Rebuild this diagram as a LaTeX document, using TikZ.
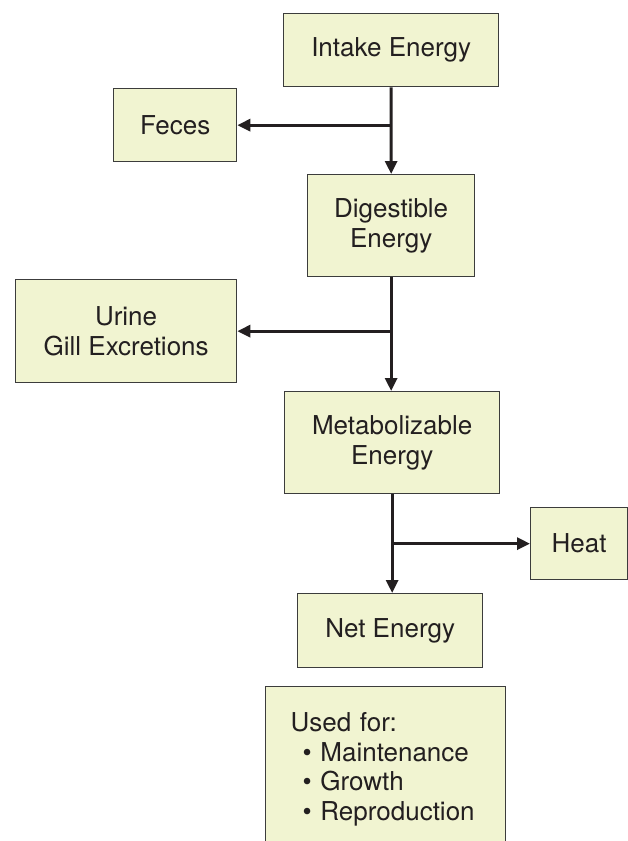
\documentclass[tikz,border=0pt]{standalone}
\usepackage{fontspec}
\setmainfont{TeX Gyre Heros}
\usepackage{tikz}
\usetikzlibrary{arrows.meta, positioning, calc}
\definecolor{boxfill}{RGB}{241,244,209}
\definecolor{boxline}{RGB}{60,60,60}
\definecolor{arrowcol}{RGB}{35,31,32}

\begin{document}
\begin{tikzpicture}[x=1bp, y=-1bp,
      box/.style={rectangle, draw=boxline, fill=boxfill, line width=1.3bp, align=center, anchor=north west, inner sep=0pt, text=arrowcol, font=\fontsize{26bp}{29.5bp}\selectfont},
      arr/.style={-{Triangle[length=13bp, width=12bp]}, line width=3bp, arrowcol},
    ]
    \useasboundingbox (0,0) rectangle (628,841);
    \clip (0,0) rectangle (628,841);
    % main column
    \node[box, minimum width=215bp, minimum height=73bp] (intake) at (283,13) {Intake Energy};
    \node[box, minimum width=167bp, minimum height=102bp] (digest) at (307,174) {Digestible\\Energy};
    \node[box, minimum width=215bp, minimum height=102bp] (metab) at (284,391) {Metabolizable\\Energy};
    \node[box, minimum width=185bp, minimum height=74bp] (net) at (297,593) {Net Energy};
    \node[box, minimum width=240bp, minimum height=165bp, text width=190bp, align=left] (used) at (265,686)
      {Used for:\\\hspace*{12bp}\textbullet\ Maintenance\\\hspace*{12bp}\textbullet\ Growth\\\hspace*{12bp}\textbullet\ Reproduction};
    % losses
    \node[box, minimum width=123bp, minimum height=73bp] (feces) at (113,88) {Feces};
    \node[box, minimum width=221bp, minimum height=103bp] (urine) at (15,279) {Urine\\Gill Excretions};
    \node[box, minimum width=97bp, minimum height=72bp] (heat) at (530,507) {Heat};
    \coordinate (fj) at (intake.south |- feces.east);
    \coordinate (uj) at (digest.south |- urine.east);
    \coordinate (hj) at (metab.south |- heat.west);
    \draw[arr] (intake.south) -- (digest.north);
    \draw[arr] (digest.south) -- (digest.south |- metab.north);
    \draw[arr] (metab.south) -- (metab.south |- net.north);
    \draw[arr] (fj) -- (feces.east);
    \draw[arr] (uj) -- (urine.east);
    \draw[arr] (hj) -- (heat.west);
  \end{tikzpicture}
\end{document}
